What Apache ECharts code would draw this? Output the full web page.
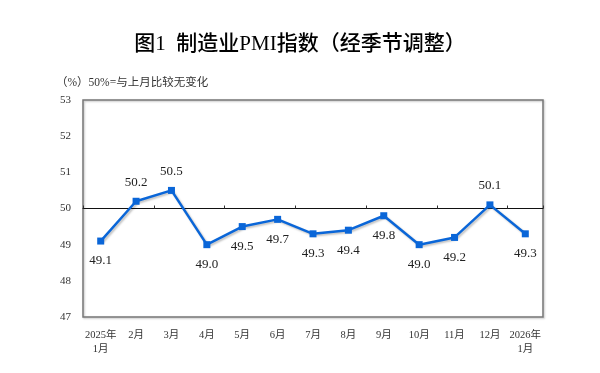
<!DOCTYPE html>
<html><head><meta charset="utf-8">
<script src="https://cdn.jsdelivr.net/npm/echarts@6/dist/echarts.min.js"></script>
<style>html,body{margin:0;padding:0;background:#fff}#c{width:600px;height:373px}</style>
</head><body><div id="c"></div>
<script>
const categories = ['2025年\n1月','2月','3月','4月','5月','6月','7月','8月','9月','10月','11月','12月','2026年\n1月'];
const pmiValues = [49.1, 50.2, 50.5, 49.0, 49.5, 49.7, 49.3, 49.4, 49.8, 49.0, 49.2, 50.1, 49.3];
const labelAbove = [false, true, true, false, false, false, false, false, false, false, false, true, false];
const yTicks = [47, 48, 49, 50, 51, 52, 53];

const serif = '"Liberation Serif","DejaVu Serif","Noto Sans CJK SC",serif';
const chart = echarts.init(document.getElementById('c'));
chart.setOption({
  animation: false,
  backgroundColor: '#fff',
  title: [
    {text: '图1  制造业PMI指数（经季节调整）', left: 'center', top: 29,
     textStyle: {fontFamily: serif, fontSize: 21, fontWeight: 500, color: '#000'}},
    {text: '（%）50%=与上月比较无变化', left: 51, top: 72,
     textStyle: {fontFamily: serif, fontSize: 11.5, fontWeight: 'normal', color: '#333'}}
  ],
  grid: {left: 83, right: 57, top: 100, bottom: 56, show: true, borderColor: '#777', borderWidth: 1.5,
         shadowColor: 'rgba(0,0,0,0.25)', shadowBlur: 2, shadowOffsetX: 1, shadowOffsetY: 1},
  xAxis: [
    {type: 'category', data: categories, boundaryGap: true, position: 'bottom',
     axisLine: {show: false}, axisTick: {show: false},
     axisLabel: {fontFamily: serif, fontSize: 10.5, color: '#333', margin: 11, lineHeight: 14, interval: 0}},
    {type: 'category', data: categories, boundaryGap: true, position: 'bottom', offset: -108.5,
     axisLine: {show: true, lineStyle: {color: '#111', width: 1}},
     axisTick: {show: true, inside: true, length: 3, lineStyle: {color: '#333'}},
     axisLabel: {show: false}}
  ],
  yAxis: {type: 'value', min: yTicks[0], max: yTicks[yTicks.length - 1], interval: 1,
    splitLine: {show: false}, axisLine: {show: false}, axisTick: {show: false},
    axisLabel: {fontFamily: serif, fontSize: 11, color: '#333', margin: 12}},
  series: [{
    type: 'line', xAxisIndex: 0, data: pmiValues.map((v, i) => ({
      value: v,
      label: {position: labelAbove[i] ? 'top' : 'bottom', distance: labelAbove[i] ? 9 : 10}
    })),
    symbol: 'rect', symbolSize: 7,
    lineStyle: {color: '#0a66d8', width: 2.5, shadowColor: 'rgba(0,0,0,0.25)', shadowBlur: 2, shadowOffsetX: 1.5, shadowOffsetY: 1.5},
    itemStyle: {color: '#0a66d8'},
    label: {show: true, fontFamily: serif, fontSize: 13, color: '#222',
      formatter: p => p.value.toFixed(1)},
    z: 5
  }]
});
</script></body></html>
